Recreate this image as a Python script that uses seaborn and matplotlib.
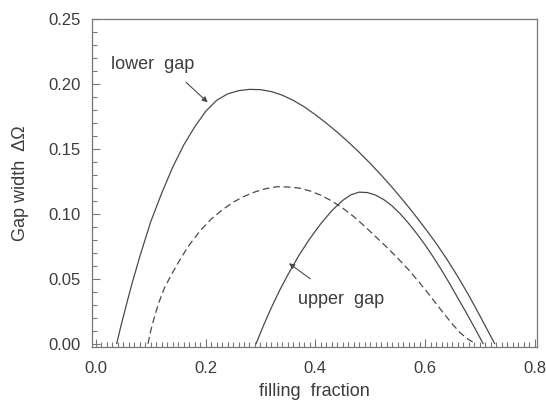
import matplotlib
matplotlib.use("Agg")
import matplotlib.pyplot as plt
from matplotlib.ticker import MultipleLocator
import seaborn as sns
import pandas as pd

# Gap width versus filling fraction
lower_x = [0.038, 0.045, 0.055, 0.065, 0.080, 0.100, 0.120, 0.140, 0.160, 0.180,
           0.200, 0.220, 0.240, 0.260, 0.280, 0.300, 0.320, 0.340, 0.360, 0.380,
           0.400, 0.420, 0.440, 0.460, 0.480, 0.500, 0.520, 0.540, 0.560, 0.580,
           0.600, 0.620, 0.640, 0.660, 0.680, 0.700, 0.715, 0.727]
lower_y = [0.000, 0.0125, 0.029, 0.045, 0.067, 0.094, 0.116, 0.136, 0.153, 0.167,
           0.179, 0.1875, 0.1925, 0.1950, 0.1960, 0.1958, 0.1943, 0.1915, 0.1875, 0.1825,
           0.1765, 0.1700, 0.1630, 0.1555, 0.1475, 0.1390, 0.1300, 0.1205, 0.1105, 0.1000,
           0.0890, 0.0775, 0.0650, 0.0515, 0.0370, 0.0215, 0.0095, 0.000]

dashed_x = [0.095, 0.100, 0.107, 0.115, 0.125, 0.140, 0.155, 0.170, 0.190, 0.210,
            0.230, 0.250, 0.270, 0.290, 0.310, 0.330, 0.350, 0.370, 0.390, 0.410,
            0.430, 0.450, 0.470, 0.490, 0.510, 0.530, 0.550, 0.570, 0.590, 0.610,
            0.630, 0.650, 0.665, 0.680, 0.693]
dashed_y = [0.000, 0.010, 0.021, 0.032, 0.043, 0.055, 0.066, 0.076, 0.087, 0.096,
            0.103, 0.109, 0.1135, 0.117, 0.1195, 0.1210, 0.1208, 0.1200, 0.1178, 0.1145,
            0.1100, 0.1045, 0.0980, 0.0905, 0.0825, 0.0745, 0.0660, 0.0570, 0.0470, 0.0365,
            0.0255, 0.0150, 0.0080, 0.0030, 0.000]

upper_x = [0.292, 0.300, 0.310, 0.320, 0.335, 0.350, 0.370, 0.390, 0.410, 0.430,
           0.450, 0.465, 0.480, 0.495, 0.510, 0.525, 0.540, 0.555, 0.570, 0.585,
           0.600, 0.615, 0.630, 0.645, 0.660, 0.675, 0.690, 0.706]
upper_y = [0.000, 0.0084, 0.0184, 0.0279, 0.0412, 0.0532, 0.068, 0.081, 0.0925, 0.1025,
           0.1105, 0.1148, 0.1168, 0.1165, 0.1145, 0.1110, 0.1062, 0.1000, 0.0928, 0.0848,
           0.0762, 0.0668, 0.0568, 0.0462, 0.0350, 0.0240, 0.0125, 0.000]

x_ticks = [0.0, 0.2, 0.4, 0.6, 0.8]
y_ticks = [0.00, 0.05, 0.10, 0.15, 0.20, 0.25]

sns.set_style("ticks")
plt.rcParams["font.family"] = ["Liberation Sans", "DejaVu Sans"]

ink = "#3c3c3c"
line_col = "#4a4a4a"

fig = plt.figure(figsize=(5.46, 4.03), dpi=100)
ax = fig.add_axes([92 / 546, (403 - 347) / 403, 445 / 546, (347 - 19.3) / 403])

lower = pd.DataFrame({"f": lower_x, "w": lower_y})
dashed = pd.DataFrame({"f": dashed_x, "w": dashed_y})
upper = pd.DataFrame({"f": upper_x, "w": upper_y})

sns.lineplot(data=lower, x="f", y="w", ax=ax, color=line_col, lw=0.9, sort=False)
sns.lineplot(data=dashed, x="f", y="w", ax=ax, color=line_col, lw=0.9, sort=False,
             linestyle=(0, (5.5, 3)))
sns.lineplot(data=upper, x="f", y="w", ax=ax, color=line_col, lw=0.9, sort=False)

ax.set_xlim(-0.007, 0.804)
ax.set_ylim(-0.0025, 0.25)
ax.set_xticks(x_ticks)
ax.set_yticks(y_ticks)
ax.set_xticklabels([f"{v:.1f}" for v in x_ticks])
ax.set_yticklabels([f"{v:.2f}" for v in y_ticks])
ax.xaxis.set_minor_locator(MultipleLocator(0.01))
ax.yaxis.set_minor_locator(MultipleLocator(0.01))

ax.tick_params(axis="both", which="both", direction="in", colors="#777777",
               labelcolor=ink, labelsize=12, width=0.8)
ax.tick_params(axis="both", which="major", length=6)
ax.tick_params(axis="both", which="minor", length=3.5)
ax.tick_params(axis="x", which="major", pad=10)
ax.tick_params(axis="y", which="major", pad=8)
ax.tick_params(top=False, right=False, which="both")

for s in ax.spines.values():
    s.set_color("#777777")
    s.set_linewidth(0.9)

ax.set_xlabel("filling  fraction", fontsize=13, color=ink, labelpad=5)
ax.set_ylabel("Gap width  \u0394\u03a9", fontsize=13, color=ink, labelpad=14)

ax.text(0.0285, 0.2117, "lower  gap", fontsize=13, color=ink, va="baseline")
ax.annotate("", xy=(0.2038, 0.186), xytext=(0.1646, 0.2014),
            arrowprops=dict(arrowstyle="-|>", color=line_col, lw=0.8,
                            mutation_scale=8, shrinkA=0, shrinkB=0))

ax.text(0.369, 0.031, "upper  gap", fontsize=13, color=ink, va="baseline")
ax.annotate("", xy=(0.352, 0.062), xytext=(0.391, 0.0500),
            arrowprops=dict(arrowstyle="-|>", color=line_col, lw=0.8,
                            mutation_scale=8, shrinkA=0, shrinkB=0))

fig.savefig("out.png", dpi=100)
